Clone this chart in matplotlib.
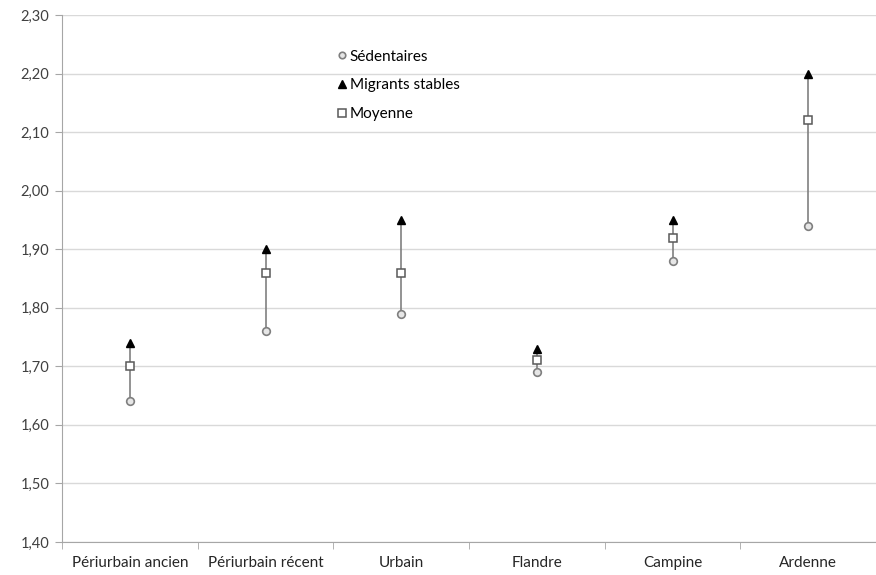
import matplotlib.pyplot as plt
from matplotlib.ticker import FuncFormatter

categories = ["Périurbain ancien", "Périurbain récent", "Urbain", "Flandre", "Campine", "Ardenne"]
sedentaires = [1.64, 1.76, 1.79, 1.69, 1.88, 1.94]
migrants = [1.74, 1.90, 1.95, 1.73, 1.95, 2.20]
moyenne = [1.70, 1.86, 1.86, 1.71, 1.92, 2.12]

plt.rcParams['font.family'] = ['Lato', 'DejaVu Sans']

fig = plt.figure(figsize=(8.76, 5.75), dpi=100)
ax = fig.add_axes([62/876, 33/575, (876-62)/876, 527/575])

x = list(range(len(categories)))

# vertical line between sedentaires and migrants
ax.vlines(x, sedentaires, migrants, colors="#808080", linewidth=1.2, zorder=2)

ax.plot(x, sedentaires, linestyle="none", marker="o", markersize=5.5,
        markerfacecolor="#e6e6e6", markeredgecolor="#7f7f7f", markeredgewidth=1.2,
        label="Sédentaires", zorder=3)
ax.plot(x, migrants, linestyle="none", marker="^", markersize=6,
        markerfacecolor="black", markeredgecolor="black", label="Migrants stables", zorder=3)
ax.plot(x, moyenne, linestyle="none", marker="s", markersize=6,
        markerfacecolor="white", markeredgecolor="#595959", markeredgewidth=1.1,
        label="Moyenne", zorder=4)

ax.set_ylim(1.40, 2.30)
ax.set_yticks([1.40 + 0.1 * i for i in range(10)])
ax.yaxis.set_major_formatter(FuncFormatter(lambda v, p: f"{v:.2f}".replace(".", ",")))
ax.grid(axis="y", color="#d9d9d9", linewidth=1)
ax.set_axisbelow(True)

ax.set_xlim(-0.5, 5.43)
ax.set_xticks(x)
ax.set_xticklabels(categories)
ax.set_xticks([i + 0.5 for i in range(-1, 6)], minor=True)
ax.tick_params(axis="x", which="major", length=0, pad=10, labelsize=11, colors="#262626")
ax.tick_params(axis="x", which="minor", length=5, color="#a6a6a6")
ax.tick_params(axis="y", length=5, color="#a6a6a6", labelsize=10.5, labelcolor="#404040", pad=4)

for s in ["top", "right"]:
    ax.spines[s].set_visible(False)
for s in ["left", "bottom"]:
    ax.spines[s].set_color("#a6a6a6")

ax.legend(loc="upper left", bbox_to_anchor=(0.318, 0.96), frameon=False, fontsize=11,
          handletextpad=0.0, handlelength=1.0, labelspacing=0.95, markerscale=0.85)

fig.savefig("out.png", dpi=100)
